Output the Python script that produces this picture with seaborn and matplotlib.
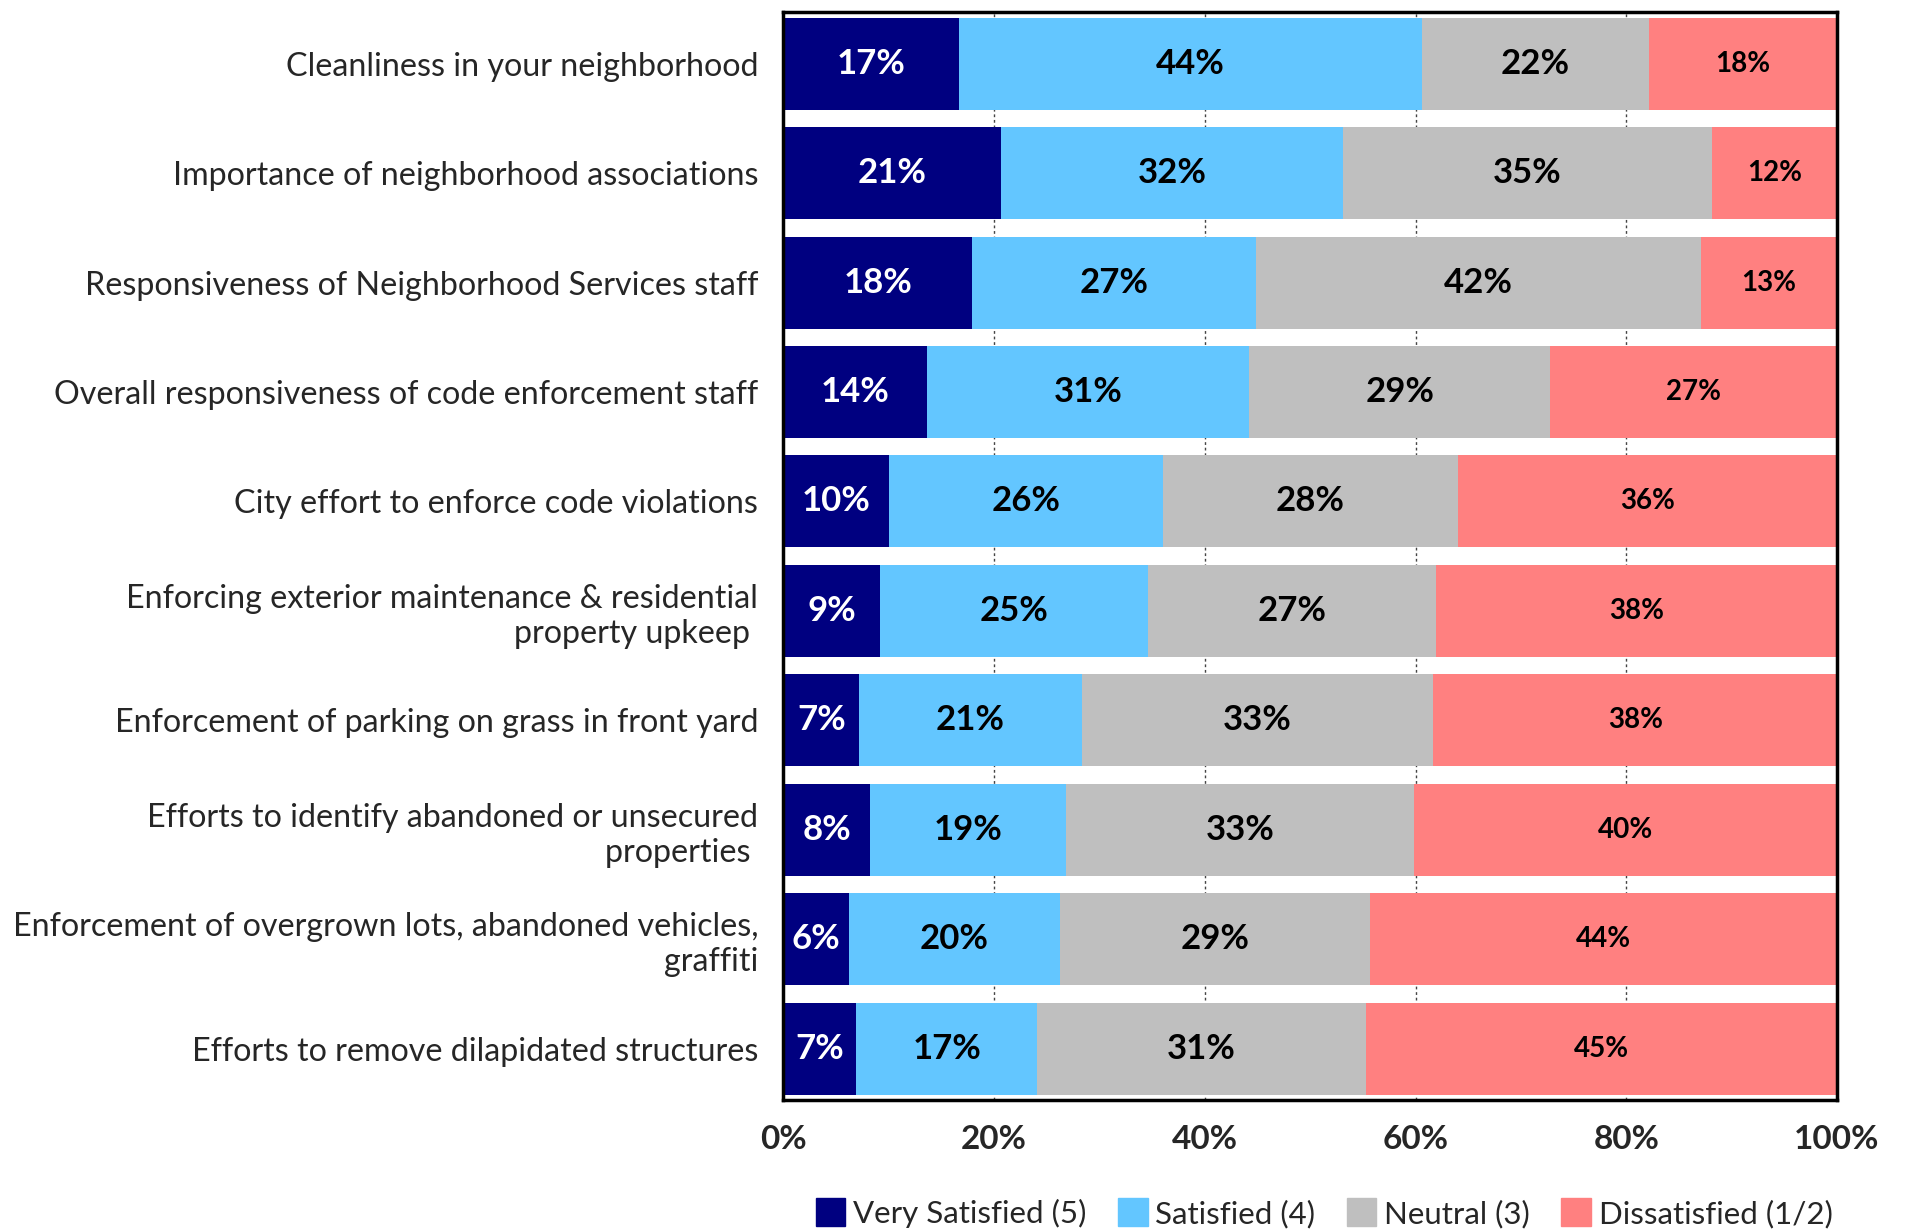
import numpy as np
import pandas as pd
import matplotlib
matplotlib.use("Agg")
import matplotlib.pyplot as plt
import seaborn as sns

# Survey items (top to bottom)
items = [
    "Cleanliness in your neighborhood",
    "Importance of neighborhood associations",
    "Responsiveness of Neighborhood Services staff",
    "Overall responsiveness of code enforcement staff",
    "City effort to enforce code violations",
    "Enforcing exterior maintenance & residential\nproperty upkeep ",
    "Enforcement of parking on grass in front yard",
    "Efforts to identify abandoned or unsecured\nproperties ",
    "Enforcement of overgrown lots, abandoned vehicles,\ngraffiti",
    "Efforts to remove dilapidated structures",
]

# Percent of respondents per rating
very_satisfied = [16.7, 20.7, 17.9, 13.6, 10.0, 9.2, 7.2, 8.2, 6.2, 6.9]
satisfied      = [43.9, 32.4, 27.0, 30.6, 26.0, 25.4, 21.1, 18.6, 20.1, 17.2]
neutral        = [21.6, 35.0, 42.2, 28.6, 28.0, 27.3, 33.4, 33.1, 29.4, 31.2]
dissatisfied   = [17.8, 11.9, 12.9, 27.2, 36.0, 38.1, 38.3, 40.1, 44.3, 44.7]

series_names = ["Very Satisfied (5)", "Satisfied (4)", "Neutral (3)", "Dissatisfied (1/2)"]
colors = ["#000080", "#63C6FF", "#BFBFBF", "#FF8080"]
label_colors = ["white", "black", "black", "black"]
label_sizes = [25, 25, 25, 20]

x_ticks = [0, 20, 40, 60, 80, 100]
x_ticklabels = ["0%", "20%", "40%", "60%", "80%", "100%"]

sns.set_theme(style="white")
plt.rcParams["font.family"] = ["Lato", "DejaVu Sans"]

df = pd.DataFrame({
    "item": items,
    series_names[0]: very_satisfied,
    series_names[1]: satisfied,
    series_names[2]: neutral,
    series_names[3]: dissatisfied,
})
cum = df[series_names].cumsum(axis=1)

fig = plt.figure(figsize=(19.06, 12.31), dpi=100)
ax = fig.add_axes([0.411, 0.1064, 0.5528, 0.8836])

# grid behind the bars
ax.set_axisbelow(True)
for xv in x_ticks[1:-1]:
    ax.axvline(xv, color="#444444", linestyle=(0, (2, 2)), linewidth=1.0, zorder=0)

# stacked bars: draw cumulative totals from the largest down
for name, color in reversed(list(zip(series_names, colors))):
    sns.barplot(x=cum[name], y=df["item"], orient="h", color=color,
                width=0.84, saturation=1, ax=ax, zorder=2, linewidth=0)

# value labels centred in each segment
for i in range(len(items)):
    for name, lc, ls in zip(series_names, label_colors, label_sizes):
        v = df.loc[i, name]
        c = cum.loc[i, name] - v / 2
        ax.text(c, i, f"{v:.0f}%", ha="center", va="center", color=lc,
                fontsize=ls, fontweight="bold", zorder=3)

ax.set_xlim(0, 100)
ax.set_ylim(9.47, -0.47)
ax.set_xticks(x_ticks)
ax.set_xticklabels(x_ticklabels, fontsize=24, fontweight="bold")
ax.set_xlabel("")
ax.set_ylabel("")
ax.tick_params(axis="x", length=0, pad=18)
ax.tick_params(axis="y", length=0, pad=18, labelsize=23.2)
for lab in ax.get_yticklabels():
    lab.set_horizontalalignment("right")
    lab.set_multialignment("right")
for sp in ax.spines.values():
    sp.set_visible(True)
    sp.set_color("black")
    sp.set_linewidth(2.5)

handles = [plt.Rectangle((0, 0), 1, 1, color=c) for c in colors]
fig.legend(handles, series_names, loc="center right",
           bbox_to_anchor=(0.968, 0.0145), ncol=4, frameon=False,
           fontsize=22.5, handlelength=0.95, handleheight=1.0,
           handletextpad=0.25, columnspacing=1.0, borderaxespad=0)

fig.savefig("out.png", dpi=100)
